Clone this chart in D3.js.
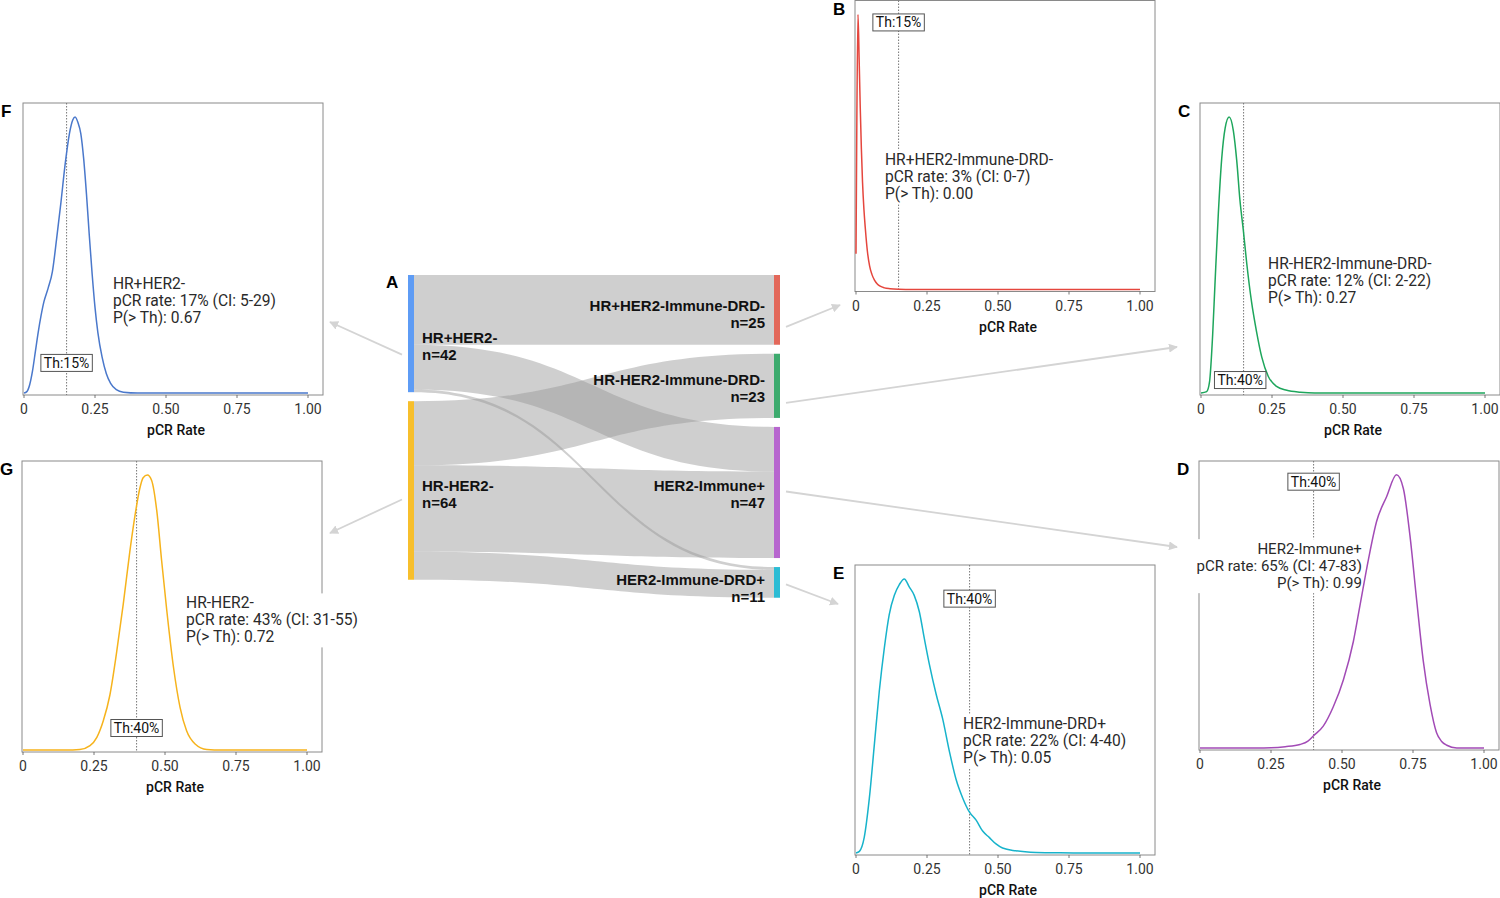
<!DOCTYPE html>
<html><head><meta charset="utf-8">
<script src="https://cdn.jsdelivr.net/npm/d3@7"></script>
<style>body{margin:0;background:#fff}svg{display:block}</style>
</head><body>
<svg id="chart" width="1500" height="898"></svg>
<script>
// ---------------- DATA ----------------
const nodeNames = ["HR+HER2-", "HR-HER2-", "HR+HER2-Immune-DRD-", "HR-HER2-Immune-DRD-", "HER2-Immune+", "HER2-Immune-DRD+"];
const nodeCounts = [42, 64, 25, 23, 47, 11];
const nodeColumn = [0, 0, 1, 1, 1, 1];
const nodeColors = ["#5e9cf5", "#f7bf2c", "#e3685a", "#3dab6e", "#b766cf", "#2cbcd4"];
const linkSource = [0, 0, 0, 1, 1, 1];
const linkTarget = [2, 4, 5, 3, 4, 5];
const linkValue  = [25, 16, 1, 23, 31, 10];

const panelLetters = ["B", "C", "D", "E", "F", "G"];
const panelGroups = ["HR+HER2-Immune-DRD-", "HR-HER2-Immune-DRD-", "HER2-Immune+", "HER2-Immune-DRD+", "HR+HER2-", "HR-HER2-"];
const pcrRate = [3, 12, 65, 22, 17, 43];
const ciLow   = [0, 2, 47, 4, 5, 31];
const ciHigh  = [7, 22, 83, 40, 29, 55];
const pAboveTh = ["0.00", "0.27", "0.99", "0.05", "0.67", "0.72"];
const thresholdValue = [0.15, 0.15, 0.40, 0.40, 0.15, 0.40];
const thresholdLabel = ["Th:15%", "Th:40%", "Th:40%", "Th:40%", "Th:15%", "Th:40%"];
const curveColors = ["#e5463d", "#1ea65c", "#a24bb6", "#17b3cb", "#4a78cb", "#f6b31c"];
const xTicks = [0, 0.25, 0.5, 0.75, 1];
const xTickLabels = ["0", "0.25", "0.50", "0.75", "1.00"];

// posterior density curves (x = pCR rate, y = density relative to peak)
const densityB = [[0,0.13],[0.003,0.62],[0.007,1.0],[0.011,0.84],[0.015,0.66],[0.019,0.51],[0.023,0.39],[0.028,0.29],[0.033,0.22],[0.04,0.14],[0.048,0.085],[0.056,0.055],[0.065,0.034],[0.075,0.02],[0.085,0.012],[0.1,0.006],[0.12,0.003],[0.15,0.001],[0.2,0],[0.5,0],[1,0]];
const densityC = [[0,0],[0.02,0.005],[0.03,0.04],[0.041,0.21],[0.049,0.39],[0.061,0.65],[0.073,0.85],[0.085,0.96],[0.099,1.0],[0.114,0.95],[0.126,0.84],[0.137,0.70],[0.149,0.59],[0.161,0.47],[0.178,0.33],[0.196,0.22],[0.214,0.13],[0.237,0.06],[0.266,0.024],[0.302,0.01],[0.35,0.003],[0.4,0],[1,0]];
const densityD = [[0,0],[0.2,0],[0.25,0.001],[0.3,0.005],[0.352,0.013],[0.38,0.025],[0.399,0.044],[0.434,0.08],[0.469,0.15],[0.505,0.25],[0.54,0.39],[0.563,0.52],[0.593,0.69],[0.622,0.83],[0.657,0.92],[0.692,1.0],[0.716,0.95],[0.739,0.78],[0.763,0.54],[0.786,0.32],[0.81,0.16],[0.833,0.056],[0.85,0.025],[0.869,0.01],[0.904,0],[1,0]];
const densityE = [[0,0],[0.012,0.006],[0.029,0.057],[0.047,0.2],[0.065,0.4],[0.082,0.59],[0.1,0.75],[0.117,0.87],[0.135,0.94],[0.153,0.98],[0.17,1.0],[0.188,0.97],[0.205,0.94],[0.223,0.88],[0.241,0.78],[0.258,0.69],[0.282,0.58],[0.305,0.49],[0.329,0.37],[0.352,0.27],[0.376,0.2],[0.399,0.15],[0.423,0.12],[0.446,0.08],[0.469,0.057],[0.493,0.033],[0.516,0.018],[0.563,0.008],[0.634,0.002],[0.7,0.001],[0.8,0],[1,0]];
const densityF = [[0,0],[0.01,0.005],[0.02,0.03],[0.03,0.08],[0.04,0.15],[0.05,0.22],[0.06,0.28],[0.07,0.33],[0.085,0.38],[0.1,0.44],[0.115,0.56],[0.13,0.69],[0.145,0.83],[0.16,0.94],[0.172,0.99],[0.18,1.0],[0.19,0.98],[0.2,0.94],[0.21,0.85],[0.22,0.72],[0.23,0.57],[0.24,0.43],[0.25,0.31],[0.26,0.22],[0.275,0.13],[0.29,0.07],[0.305,0.035],[0.325,0.012],[0.35,0.003],[0.4,0],[1,0]];
const densityG = [[0,0],[0.15,0],[0.2,0.002],[0.236,0.016],[0.26,0.046],[0.283,0.107],[0.306,0.2],[0.329,0.35],[0.353,0.53],[0.376,0.72],[0.394,0.85],[0.411,0.95],[0.423,0.99],[0.438,1.0],[0.453,0.98],[0.471,0.87],[0.488,0.69],[0.506,0.51],[0.53,0.3],[0.553,0.155],[0.576,0.07],[0.606,0.022],[0.647,0.002],[0.7,0],[1,0]];
const densities = [densityB, densityC, densityD, densityE, densityF, densityG];

// ---------------- LAYOUT ----------------
const svg = d3.select("#chart");
const FONT = "Roboto, 'Liberation Sans', Arial, sans-serif";
const BOLD = "'Liberation Sans', Arial, sans-serif";

// panel frames: left, top, height
const frames = {
  B: {L: 855, T: 0.5, H: 291},
  C: {L: 1200, T: 103, H: 292},
  D: {L: 1199, T: 461, H: 289},
  E: {L: 855, T: 565, H: 290},
  F: {L: 23, T: 103, H: 292},
  G: {L: 22, T: 461, H: 291}
};
const frameW = 300;
// annotation anchors in data space: [x, y(rel), anchor]
const annot = {
  B: [0.102, 0.47, "start"], C: [0.236, 0.467, "start"], D: [0.570, 0.728, "end"],
  E: [0.377, 0.471, "start"], F: [0.313, 0.395, "start"], G: [0.574, 0.533, "start"]
};
const annotSize = {B: 15.6, C: 15.6, D: 15, E: 15.6, F: 15.6, G: 15.6};
const thLabelY = {B: 0.971, C: 0.047, D: 0.975, E: 0.928, F: 0.109, G: 0.08};
const thLabelX = {B: 0.15, C: 0.138, D: 0.40, E: 0.40, F: 0.15, G: 0.40};

// ---------- Sankey (manual layout with d3 scales) ----------
const sk = {top: 275, pad: 9, colX: [408, 774], nodeW: 6};
const kScale = d3.scaleLinear().domain([0, 1]).range([0, 2.79]);
const nodes = nodeNames.map((n, i) => ({name: n, value: nodeCounts[i], col: nodeColumn[i], color: nodeColors[i], i}));
[0, 1].forEach(c => {
  let y = sk.top;
  nodes.filter(n => n.col === c).forEach(n => {
    n.x0 = sk.colX[c]; n.x1 = n.x0 + sk.nodeW;
    n.y0 = y; n.y1 = y + kScale(n.value); y = n.y1 + sk.pad;
    n.outY = n.y0; n.inY = n.y0;
  });
});
const links = linkValue.map((v, i) => ({s: nodes[linkSource[i]], t: nodes[linkTarget[i]], v}));
links.forEach(l => {
  const w = kScale(l.v);
  l.sy0 = l.s.outY; l.sy1 = l.sy0 + w; l.s.outY = l.sy1;
});
links.slice().sort((a, b) => a.s.y0 - b.s.y0).forEach(l => {
  const w = kScale(l.v);
  l.ty0 = l.t.inY; l.ty1 = l.ty0 + w; l.t.inY = l.ty1;
});
function ribbon(l) {
  const x0 = l.s.x1, x1 = l.t.x0, xm = (x0 + x1) / 2;
  const p = d3.path();
  p.moveTo(x0, l.sy0);
  p.bezierCurveTo(xm, l.sy0, xm, l.ty0, x1, l.ty0);
  p.lineTo(x1, l.ty1);
  p.bezierCurveTo(xm, l.ty1, xm, l.sy1, x0, l.sy1);
  p.closePath();
  return p.toString();
}
const gS = svg.append("g");
gS.selectAll("path.link").data(links).join("path")
  .attr("d", ribbon).attr("fill", "#969696").attr("fill-opacity", 0.46);
gS.selectAll("rect.node").data(nodes).join("rect")
  .attr("x", d => d.x0).attr("y", d => d.y0).attr("width", sk.nodeW)
  .attr("height", d => d.y1 - d.y0).attr("fill", d => d.color);
const labelDy = {0: 8, 3: -1.5, 4: -2, 5: 2};
nodes.forEach(n => {
  const cy = (n.y0 + n.y1) / 2 + (labelDy[n.i] || 0);
  const left = n.col === 0;
  const t = gS.append("text").attr("font-family", BOLD).attr("font-weight", "bold")
    .attr("font-size", 15).attr("fill", "#111")
    .attr("text-anchor", left ? "start" : "end");
  const x = left ? n.x1 + 8 : n.x0 - 9;
  t.append("tspan").attr("x", x).attr("y", cy + 1).text(n.name);
  t.append("tspan").attr("x", x).attr("y", cy + 18).text("n=" + n.value);
});
svg.append("text").attr("x", 386).attr("y", 288).attr("font-family", BOLD)
  .attr("font-weight", "bold").attr("font-size", 17).text("A");

// ---------- Arrows ----------
const defs = svg.append("defs");
defs.append("marker").attr("id", "ah").attr("viewBox", "0 0 10 10").attr("refX", 9).attr("refY", 5)
  .attr("markerWidth", 5).attr("markerHeight", 5).attr("orient", "auto")
  .append("path").attr("d", "M0,0L10,5L0,10Z").attr("fill", "#d4d4d4");
const nodeCenter = i => (nodes[i].y0 + nodes[i].y1) / 2;
const arrows = [
  [nodes[0].x0 - 6, nodeCenter(0) + 21, frames.F.L + frameW + 7, 322],
  [nodes[1].x0 - 6, nodeCenter(1) + 9, frames.G.L + frameW + 8, 533],
  [nodes[2].x1 + 6, nodeCenter(2) + 17, frames.B.L - 15, 305],
  [nodes[3].x1 + 6, nodeCenter(3) + 17, frames.C.L - 23, 347],
  [nodes[4].x1 + 6, nodeCenter(4) - 1, frames.D.L - 22, 547],
  [nodes[5].x1 + 6, nodeCenter(5) + 2, frames.E.L - 17, 604]
];
svg.selectAll("line.arrow").data(arrows).join("line")
  .attr("x1", d => d[0]).attr("y1", d => d[1]).attr("x2", d => d[2]).attr("y2", d => d[3])
  .attr("stroke", "#d4d4d4").attr("stroke-width", 1.8).attr("marker-end", "url(#ah)");

// ---------- Density panels ----------
panelLetters.forEach((letter, i) => {
  const f = frames[letter];
  const g = svg.append("g");
  const x = d3.scaleLinear().domain([0, 1.05]).range([f.L + 1, f.L + 1 + 298.2]);
  const y = d3.scaleLinear().domain([0, 1.05]).range([f.T + f.H - 2, f.T + f.H - 2 - 289.8 * (f.H - 2) / 290]);
  const bottom = f.T + f.H;

  // frame
  g.append("rect").attr("x", f.L).attr("y", f.T).attr("width", frameW).attr("height", f.H)
    .attr("fill", "none").attr("stroke", "#8a8a8a").attr("stroke-width", 1);
  // ticks
  g.selectAll("line.tick").data(xTicks).join("line")
    .attr("x1", d => x(d)).attr("x2", d => x(d)).attr("y1", bottom).attr("y2", bottom + 3)
    .attr("stroke", "#555").attr("stroke-width", 0.8);
  g.selectAll("text.tick").data(xTicks).join("text")
    .attr("x", d => x(d)).attr("y", bottom + 19).attr("text-anchor", "middle")
    .attr("font-family", FONT).attr("font-size", 14).attr("fill", "#333")
    .text((d, j) => xTickLabels[j]);
  g.append("text").attr("x", f.L + frameW / 2 + 3).attr("y", bottom + 40).attr("text-anchor", "middle")
    .attr("font-family", FONT).attr("font-size", 14).attr("font-weight", 500).attr("fill", "#111")
    .text("pCR Rate");
  // panel letter
  g.append("text").attr("x", f.L - 22).attr("y", f.T + 14).attr("font-family", BOLD)
    .attr("font-weight", "bold").attr("font-size", 17).text(letter);

  // threshold line
  g.append("line").attr("x1", x(thresholdValue[i])).attr("x2", x(thresholdValue[i]))
    .attr("y1", f.T).attr("y2", bottom).attr("stroke", "#777").attr("stroke-width", 1)
    .attr("stroke-dasharray", "1.5,1.5");

  // annotation label with white background
  const [ax, ay, anc] = annot[letter];
  const lines = [panelGroups[i], `pCR rate: ${pcrRate[i]}% (CI: ${ciLow[i]}-${ciHigh[i]})`, `P(> Th): ${pAboveTh[i]}`];
  const bgRect = g.append("rect").attr("fill", "#fff");
  const t = g.append("text").attr("font-family", FONT).attr("font-size", annotSize[letter]).attr("fill", "#2a2a2a")
    .attr("text-anchor", anc);
  lines.forEach((s, k) => t.append("tspan").attr("x", x(ax)).attr("y", y(ay) + 5 + k * 17).text(s));
  const bb = t.node().getBBox();
  bgRect.attr("x", bb.x - 2).attr("y", bb.y - 1).attr("width", bb.width + 4).attr("height", bb.height + 2);

  // density curve
  g.append("path").datum(densities[i])
    .attr("d", d3.line().x(d => x(d[0])).y(d => y(d[1])).curve(d3.curveMonotoneX))
    .attr("fill", "none").attr("stroke", curveColors[i]).attr("stroke-width", 1.5);

  // threshold label
  const tl = g.append("g");
  const tr = tl.append("rect").attr("fill", "#fff").attr("stroke", "#555").attr("stroke-width", 1);
  const ly = y(thLabelY[letter]);
  const tt = tl.append("text").attr("x", x(thLabelX[letter])).attr("y", ly + 5)
    .attr("text-anchor", "middle").attr("font-family", FONT).attr("font-size", 14).attr("fill", "#111")
    .text(thresholdLabel[i]);
  const tb = tt.node().getBBox();
  tr.attr("x", tb.x - 3).attr("y", ly - 8.5).attr("width", tb.width + 6).attr("height", 17);
});
</script>
</body></html>
